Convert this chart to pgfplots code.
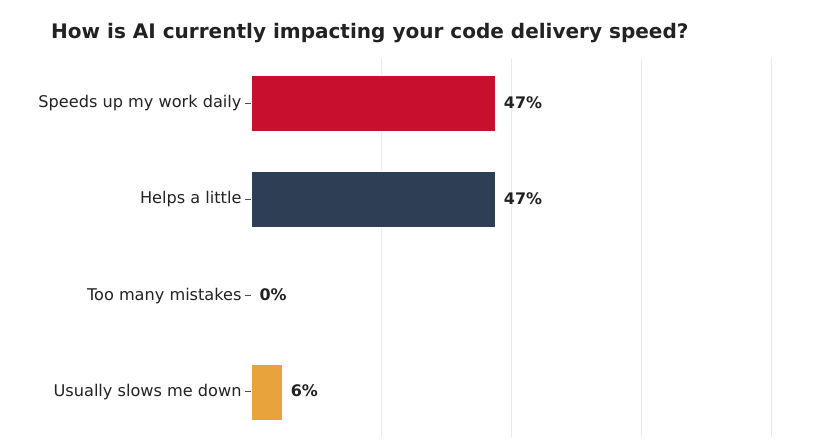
\documentclass[border=0pt]{standalone}
\usepackage{pgfplots}
\pgfplotsset{compat=1.18}
\usepackage{fontspec}
\setmainfont{DejaVu Sans}
\definecolor{cRed}{HTML}{C8102E}
\definecolor{cNavy}{HTML}{2E3E55}
\definecolor{cOrange}{HTML}{E8A33D}
\definecolor{cText}{HTML}{222222}
\definecolor{cGrid}{HTML}{EBEBEB}
\begin{document}
\begin{tikzpicture}
\useasboundingbox (0,0) rectangle (840bp,445bp);
\node[anchor=west, font=\bfseries\fontsize{20.1}{24}\selectfont, text=cText, inner sep=0pt] at (51bp,412bp) {How is AI currently impacting your code delivery speed?};
\begin{axis}[
  at={(251bp,8bp)}, anchor=south west,
  scale only axis, width=520bp, height=379bp,
  xmin=0, xmax=100,
  ymin=-0.47, ymax=3.47, y dir=reverse,
  xbar, bar width=0.583,
  axis line style={draw=none},
  xtick={25,50,75,100}, xticklabels={},
  xmajorgrids, grid style={cGrid, line width=0.8pt},
  x tick style={draw=none},
  ytick={0,1,2,3},
  yticklabels={Speeds up my work daily, Helps a little, Too many mistakes, Usually slows me down},
  y tick label style={font=\fontsize{16.2}{19}\selectfont, text=cText},
  ytick pos=left, tick align=outside, major tick length=6bp,
  y tick style={draw=cText!80, line width=0.7pt},
  /pgf/number format/assume math mode=true,
  nodes near coords={\pgfmathprintnumber{\pgfplotspointmeta}\%},
  nodes near coords style={font=\bfseries\fontsize{16}{19}\selectfont, text=cText, anchor=west, xshift=5bp, yshift=1bp},
  point meta=x,
]
\addplot[fill=cRed, draw=white, line width=0.5pt, bar shift=0pt] coordinates {(47,0)};
\addplot[fill=cNavy, draw=white, line width=0.5pt, bar shift=0pt] coordinates {(47,1)};
\addplot[fill=white, draw=none, bar shift=0pt] coordinates {(0,2)};
\addplot[fill=cOrange, draw=white, line width=0.5pt, bar shift=0pt] coordinates {(6,3)};
\end{axis}
\end{tikzpicture}
\end{document}
